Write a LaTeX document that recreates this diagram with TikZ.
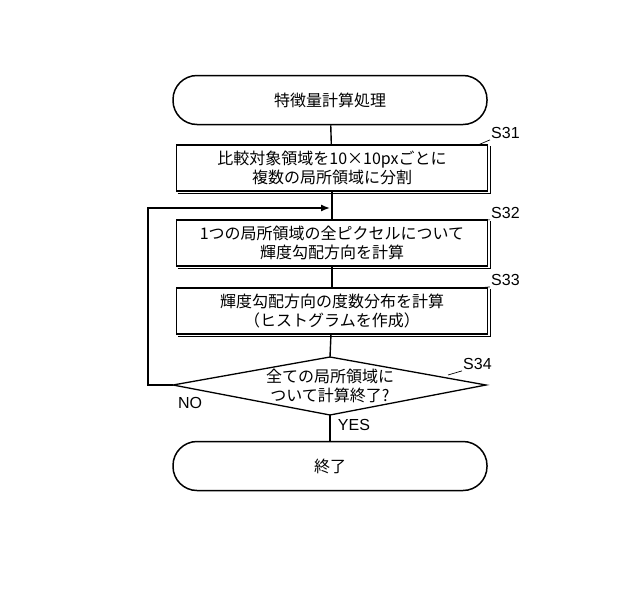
\documentclass[tikz,border=0pt]{standalone}
\usepackage{fontspec}
\setmainfont{Noto Sans CJK JP}
\newfontfamily\lat{Liberation Sans}
\usetikzlibrary{arrows.meta}
\begin{document}
\begin{tikzpicture}[x=1pt,y=-1pt,
  every node/.style={font=\fontsize{16}{18.5}\selectfont},
  term/.style={draw,line width=1.5pt,rounded corners=24pt,minimum width=314pt,minimum height=49pt,inner sep=0pt},
  proc/.style={draw,line width=1.3pt,minimum width=311pt,minimum height=46pt,inner sep=0pt,align=center},
  lab/.style={font=\lat\fontsize{16}{18}\selectfont,inner sep=1pt},
  line/.style={line width=1.4pt}]
\useasboundingbox (0,0) rectangle (640,592);
\node[term] (start) at (330,100) {特徴量計算処理};
\node[proc] (s31) at (332,168) {比較対象領域を10×10pxごとに\\複数の局所領域に分割};
\node[proc] (s32) at (332,243) {1つの局所領域の全ピクセルについて\\輝度勾配方向を計算};
\node[proc] (s33) at (332,311) {輝度勾配方向の度数分布を計算\\（ヒストグラムを作成）};
\foreach \b in {s31,s32,s33}{
  \draw[line width=0.8pt] ([xshift=2pt,yshift=-2pt]\b.south west) -- ([xshift=2pt,yshift=-2pt]\b.south east) -- ([xshift=2pt,yshift=-2pt]\b.north east);
}
\coordinate (dt) at (330,357); \coordinate (db) at (330,415);
\coordinate (dl) at (173,385); \coordinate (dr) at (486,385);
\draw[line width=1.3pt] (dt) -- (dr) -- (db) -- (dl) -- cycle;
\node[align=center] (s34) at (330,386) {全ての局所領域に\\ついて計算終了?};
\node[term] (end) at (330,466) {終了};
\coordinate (loopA) at (148,385); \coordinate (loopB) at (148,208); \coordinate (join) at (330,208);
\draw[line] (start) -- (s31);
\draw[line] (s31) -- (s32);
\draw[line] (s32) -- (s33);
\draw[line] (s33) -- (dt);
\draw[line] (db) -- (end);
\draw[line,-{Latex[length=9pt,width=7pt]}] (dl) -- (loopA) -- (loopB) -- (join);
\node[lab,anchor=west] (n31) at (490,133) {S31};
\node[lab,anchor=west] (n32) at (490,213) {S32};
\node[lab,anchor=west] (n33) at (490,280) {S33};
\node[lab,anchor=west] (n34) at (462,364) {S34};
\draw[line width=0.7pt] (478,145) -- (n31.south west);
\draw[line width=0.7pt] (478,220) -- (n32.south west);
\draw[line width=0.7pt] (478,288) -- (n33.south west);
\draw[line width=0.7pt] (448,375) -- (n34.south west);
\node[lab] (no) at (190,403) {NO};
\node[lab] (yes) at (354,425) {YES};
\end{tikzpicture}
\end{document}
